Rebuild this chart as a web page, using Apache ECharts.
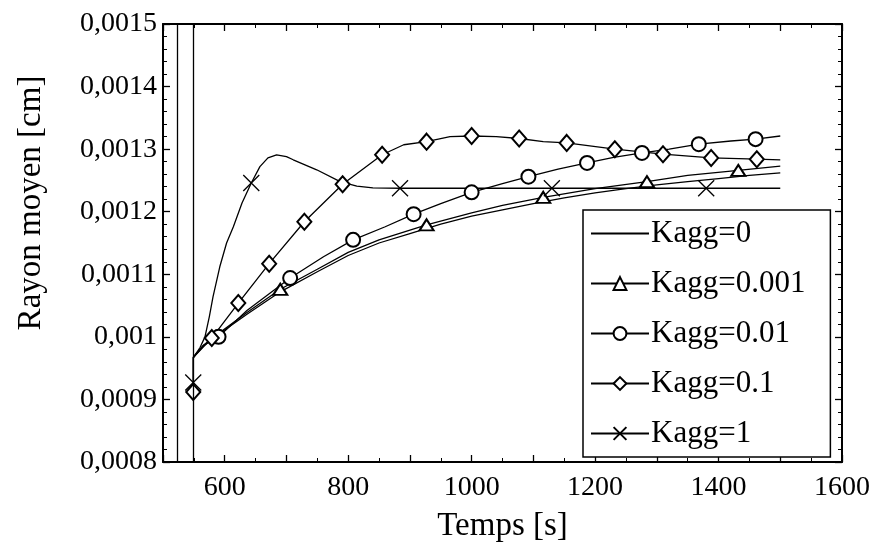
<!DOCTYPE html>
<html lang="fr">
<head>
<meta charset="UTF-8">
<title>Rayon moyen</title>
<style>
    html, body { margin: 0; padding: 0; background: #fff; }
    #main { width: 882px; height: 558px; }
</style>
</head>
<body>
<div id="main"></div>
<script src="https://cdn.jsdelivr.net/npm/echarts@6/dist/echarts.min.js"></script>
<script>
const FONT = 'Liberation Serif';

// x tick labels shown on the time axis
const xLabels = [600, 800, 1000, 1200, 1400, 1600];
// vertical lines at the start of the run (temps [s])
const startLines = [523, 549];

// curves: [temps s, rayon cm]
const kagg0 = [[549,0.000967],[565,0.000985],[581,0.000998],[636,0.001036],[690,0.001072],[750,0.001104],[800,0.00113],[850,0.00115],[900,0.001165],[950,0.00118],[1000,0.001193],[1050,0.001203],[1100,0.001213],[1150,0.001222],[1200,0.00123],[1250,0.001237],[1300,0.001243],[1350,0.001248],[1400,0.001253],[1450,0.001258],[1500,0.001262]];
const kagg0001 = [[549,0.000967],[565,0.000986],[581,0.000999],[636,0.001039],[690,0.001076],[750,0.001108],[800,0.001135],[850,0.001155],[927,0.001179],[1000,0.001198],[1050,0.00121],[1116,0.001223],[1200,0.001237],[1284,0.001248],[1350,0.001258],[1432,0.001266],[1500,0.001273]];
const kagg001 = [[549,0.000967],[565,0.000986],[590,0.001],[636,0.001042],[706,0.001094],[760,0.001128],[808,0.001155],[860,0.001176],[906,0.001196],[950,0.001213],[1000,0.001231],[1050,0.001245],[1092,0.001256],[1140,0.001268],[1187,0.001278],[1230,0.001287],[1276,0.001294],[1320,0.0013],[1368,0.001308],[1420,0.001313],[1460,0.001316],[1500,0.001321]];
const kagg01 = [[549,0.000967],[579,0.000998],[622,0.001054],[672,0.001117],[729,0.001184],[791,0.001244],[855,0.001291],[890,0.001307],[927,0.001312],[965,0.00132],[1000,0.001321],[1040,0.00132],[1077,0.001317],[1116,0.001312],[1154,0.00131],[1232,0.0013],[1310,0.001292],[1388,0.001286],[1462,0.001284],[1500,0.001283]];
const kagg1 = [[549,0.000967],[560,0.000983],[568,0.001],[575,0.001032],[581,0.001064],[592,0.001112],[603,0.00115],[614,0.001176],[628,0.001214],[643,0.001246],[657,0.001272],[670,0.001286],[684,0.001291],[700,0.001288],[711,0.001283],[749,0.001267],[787,0.001248],[814,0.001241],[840,0.001238],[884,0.0012375],[1500,0.0012375]];

// marker positions on each curve
const marks0001 = [[690,0.001076],[927,0.001179],[1116,0.001223],[1284,0.001248],[1432,0.001266]];
const marks001 = [[590,0.001],[706,0.001094],[808,0.001155],[906,0.001196],[1000,0.001231],[1092,0.001256],[1187,0.001278],[1276,0.001294],[1368,0.001308],[1460,0.001316]];
const marks01 = [[549,0.000912],[579,0.000998],[622,0.001054],[672,0.001117],[729,0.001184],[791,0.001244],[855,0.001291],[927,0.001312],[1000,0.001321],[1077,0.001317],[1154,0.00131],[1232,0.0013],[1310,0.001292],[1388,0.001286],[1462,0.001284]];
const marks1 = [[549,0.000927],[643,0.001246],[884,0.0012375],[1130,0.0012375],[1380,0.0012375]];

// curve points without symbol, marker points with symbol
function build(curve, marks) {
    const pts = curve.map(p => ({value: p, symbol: 'none'}));
    marks.forEach(m => pts.push({value: m}));
    pts.sort((a, b) => (a.value[0] - b.value[0]) || ((a.symbol ? 1 : 0) - (b.symbol ? 1 : 0)));
    return pts;
}

function serie(name, curve, marks, symbol, size) {
    return {
        name: name,
        type: 'line',
        data: build(curve, marks),
        symbol: symbol,
        symbolSize: size,
        showSymbol: true,
        lineStyle: {color: '#000', width: 1.3},
        itemStyle: {color: '#000', borderColor: '#000', borderWidth: 1.3}
    };
}

const myChart = echarts.init(document.getElementById('main'));

const axisCommon = {
    axisLine: {show: true, onZero: false, lineStyle: {color: '#000', width: 2}},
    axisTick: {show: true, inside: true, length: 7, lineStyle: {color: '#000', width: 1.3}},
    splitLine: {show: false}
};
const minorX = {show: true, splitNumber: 2, length: 4, lineStyle: {color: '#000', width: 1}};
const minorY = {show: true, splitNumber: 5, length: 4, lineStyle: {color: '#000', width: 1}};

const xFmt = v => xLabels.indexOf(v) >= 0 ? String(v) : '';
const yFmt = v => String(+v.toFixed(4)).replace('.', ',');

const series = [
    serie('Kagg=0', kagg0, [], 'none', 0),
    serie('Kagg=0.001', kagg0001, marks0001, 'emptyTriangle', [14, 11]),
    serie('Kagg=0.01', kagg001, marks001, 'emptyCircle', 14),
    serie('Kagg=0.1', kagg01, marks01, 'emptyDiamond', [14, 16]),
    serie('Kagg=1', kagg1, marks1, 'path://M0,0L10,10M10,0L0,10', 16)
];
series[0].markLine = {
    silent: true,
    symbol: 'none',
    animation: false,
    label: {show: false},
    lineStyle: {color: '#000', type: 'solid', width: 1.3},
    data: startLines.map(v => ({xAxis: v}))
};

const option = {
    animation: false,
    backgroundColor: '#fff',
    grid: {left: 163, right: 40, top: 24, bottom: 96},
    legend: {
        orient: 'vertical',
        left: 583,
        top: 210,
        padding: [8, 25, 8, 7],
        itemGap: 19,
        itemWidth: 58,
        itemHeight: 16,
        backgroundColor: '#fff',
        borderColor: '#000',
        borderWidth: 1.5,
        textStyle: {fontFamily: FONT, fontSize: 31, color: '#000', padding: [0, 0, 0, -3]},
        data: [
            {name: 'Kagg=0', itemStyle: {opacity: 0}},
            'Kagg=0.001', 'Kagg=0.01', 'Kagg=0.1', 'Kagg=1'
        ]
    },
    xAxis: [
        Object.assign({
            type: 'value', min: 500, max: 1600, interval: 100,
            name: 'Temps [s]', nameLocation: 'middle', nameGap: 48,
            nameTextStyle: {fontFamily: FONT, fontSize: 33, color: '#000'},
            axisLabel: {fontFamily: FONT, fontSize: 28, color: '#000', margin: 12, formatter: xFmt},
            minorTick: minorX
        }, axisCommon),
        Object.assign({
            type: 'value', min: 500, max: 1600, interval: 100, position: 'top',
            axisLabel: {show: false},
            minorTick: minorX
        }, axisCommon)
    ],
    yAxis: [
        Object.assign({
            type: 'value', min: 0.0008, max: 0.0015, interval: 0.0001,
            axisLabel: {fontFamily: FONT, fontSize: 28, color: '#000', margin: 6, formatter: yFmt},
            minorTick: minorY
        }, axisCommon),
        Object.assign({
            type: 'value', min: 0.0008, max: 0.0015, interval: 0.0001, position: 'right',
            axisLabel: {show: false},
            minorTick: minorY
        }, axisCommon)
    ],
    graphic: [{
        type: 'text',
        x: 31,
        y: 203,
        rotation: Math.PI / 2,
        style: {
            text: 'Rayon moyen [cm]',
            fontFamily: FONT,
            fontSize: 33,
            fill: '#000',
            align: 'center',
            verticalAlign: 'middle'
        }
    }],
    series: series
};

myChart.setOption(option);
</script>
</body>
</html>
